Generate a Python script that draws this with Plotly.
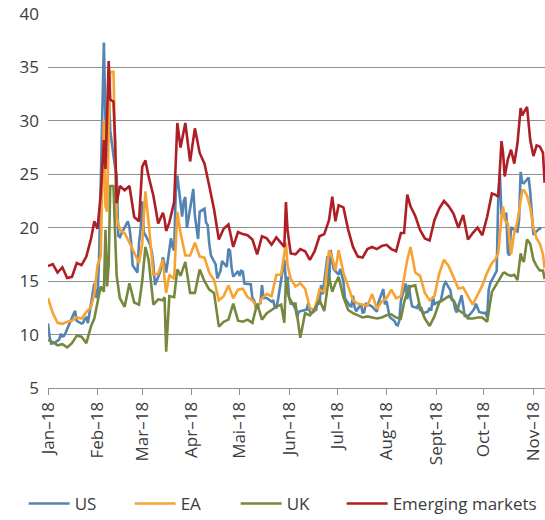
import plotly.graph_objects as go

# ---- US (daily) ----
us_dates = [
    "2018-01-01","2018-01-02","2018-01-03","2018-01-04","2018-01-05","2018-01-08","2018-01-09","2018-01-10","2018-01-11","2018-01-12",
    "2018-01-16","2018-01-17","2018-01-18","2018-01-19","2018-01-22","2018-01-23","2018-01-24","2018-01-25","2018-01-26","2018-01-29",
    "2018-01-30","2018-01-31",
    "2018-02-01","2018-02-02","2018-02-05","2018-02-06","2018-02-07","2018-02-08","2018-02-09","2018-02-12","2018-02-13","2018-02-14",
    "2018-02-15","2018-02-16","2018-02-20","2018-02-21","2018-02-22","2018-02-23","2018-02-26","2018-02-27","2018-02-28",
    "2018-03-01","2018-03-02","2018-03-05","2018-03-06","2018-03-07","2018-03-08","2018-03-09","2018-03-12","2018-03-13","2018-03-14",
    "2018-03-15","2018-03-16","2018-03-19","2018-03-20","2018-03-21","2018-03-22","2018-03-23","2018-03-26","2018-03-27","2018-03-28",
    "2018-03-29",
    "2018-04-02","2018-04-03","2018-04-04","2018-04-05","2018-04-06","2018-04-09","2018-04-10","2018-04-11","2018-04-12","2018-04-13",
    "2018-04-16","2018-04-17","2018-04-18","2018-04-19","2018-04-20","2018-04-23","2018-04-24","2018-04-25","2018-04-26","2018-04-27",
    "2018-04-30",
    "2018-05-01","2018-05-02","2018-05-03","2018-05-04","2018-05-07","2018-05-08","2018-05-09","2018-05-10","2018-05-11","2018-05-14",
    "2018-05-15","2018-05-16","2018-05-17","2018-05-18","2018-05-21","2018-05-22","2018-05-23","2018-05-24","2018-05-25","2018-05-29",
    "2018-05-30","2018-05-31",
    "2018-06-01","2018-06-04","2018-06-05","2018-06-06","2018-06-07","2018-06-08","2018-06-11","2018-06-12","2018-06-13","2018-06-14",
    "2018-06-15","2018-06-18","2018-06-19","2018-06-20","2018-06-21","2018-06-22","2018-06-25","2018-06-26","2018-06-27","2018-06-28",
    "2018-06-29",
    "2018-07-02","2018-07-03","2018-07-05","2018-07-06","2018-07-09","2018-07-10","2018-07-11","2018-07-12","2018-07-13","2018-07-16",
    "2018-07-17","2018-07-18","2018-07-19","2018-07-20","2018-07-23","2018-07-24","2018-07-25","2018-07-26","2018-07-27","2018-07-30",
    "2018-07-31",
    "2018-08-01","2018-08-02","2018-08-03","2018-08-06","2018-08-07","2018-08-08","2018-08-09","2018-08-10","2018-08-13","2018-08-14",
    "2018-08-15","2018-08-16","2018-08-17","2018-08-20","2018-08-21","2018-08-22","2018-08-23","2018-08-24","2018-08-27","2018-08-28",
    "2018-08-29","2018-08-30","2018-08-31",
    "2018-09-04","2018-09-05","2018-09-06","2018-09-07","2018-09-10","2018-09-11","2018-09-12","2018-09-13","2018-09-14","2018-09-17",
    "2018-09-18","2018-09-19","2018-09-20","2018-09-21","2018-09-24","2018-09-25","2018-09-26","2018-09-27","2018-09-28",
    "2018-10-01","2018-10-02","2018-10-03","2018-10-04","2018-10-05","2018-10-08","2018-10-09","2018-10-10","2018-10-11","2018-10-12",
    "2018-10-15","2018-10-16","2018-10-17","2018-10-18","2018-10-19","2018-10-22","2018-10-23","2018-10-24","2018-10-25","2018-10-26",
    "2018-10-29","2018-10-30","2018-10-31",
    "2018-11-01","2018-11-02","2018-11-05","2018-11-06",
]
us_vals = [
    11.04, 9.77, 9.15, 9.22, 9.22, 9.52, 10.08, 9.82, 9.88, 10.16,
    11.66, 11.91, 12.22, 11.27, 11.03, 11.10, 11.47, 11.58, 11.08, 13.84,
    14.79, 13.54,
    13.47, 17.31, 37.32, 29.98, 27.73, 33.46, 29.06, 25.61, 24.97, 19.26,
    19.13, 19.46, 20.60, 20.02, 18.72, 16.49, 15.80, 18.59, 19.85,
    22.47, 19.59, 18.73, 18.36, 17.76, 16.54, 14.64, 15.78, 16.35, 17.23,
    16.59, 15.80, 19.02, 18.20, 17.86, 23.34, 24.87, 21.03, 22.50, 22.87,
    19.97,
    23.62, 21.10, 20.06, 18.94, 21.49, 21.77, 20.47, 20.24, 18.49, 17.41,
    16.56, 15.25, 15.60, 15.96, 16.88, 16.34, 18.02, 17.84, 16.24, 15.41,
    15.93,
    15.49, 15.97, 15.90, 14.77, 14.75, 14.71, 13.42, 13.23, 12.65, 12.93,
    14.63, 13.42, 13.43, 13.42, 13.08, 13.22, 12.58, 12.53, 13.22, 17.02,
    14.94, 15.43,
    13.46, 12.74, 12.40, 11.64, 12.13, 12.18, 12.35, 12.34, 12.94, 12.12,
    11.98, 12.31, 13.35, 12.79, 14.64, 13.77, 17.33, 14.64, 17.91, 16.85,
    16.09,
    15.60, 16.14, 14.97, 13.37, 12.69, 12.64, 13.63, 12.58, 12.18, 12.83,
    12.06, 12.10, 12.87, 12.86, 12.62, 12.41, 12.29, 12.14, 13.03, 14.26,
    12.83,
    13.15, 12.19, 11.64, 11.27, 10.93, 10.85, 11.27, 13.16, 14.78, 13.31,
    14.64, 13.45, 12.64, 12.49, 12.86, 12.25, 12.41, 11.99, 12.16, 12.50,
    12.25, 13.53, 12.86,
    13.16, 13.91, 14.65, 14.88, 14.16, 13.22, 13.14, 12.37, 12.07, 13.68,
    12.79, 11.75, 11.80, 11.68, 12.20, 12.42, 12.89, 12.41, 12.12,
    12.00, 12.05, 11.61, 14.22, 14.82, 15.69, 15.95, 22.96, 24.98, 21.31,
    21.30, 17.62, 17.40, 20.06, 19.89, 19.64, 20.71, 25.23, 24.22, 24.16,
    24.70, 23.35, 21.23,
    19.34, 19.51, 19.96, 19.91,
]

# ---- EA, UK, Emerging markets (read every few days) ----
oth_dates = [
    "2018-01-01","2018-01-04","2018-01-07","2018-01-10","2018-01-13","2018-01-16","2018-01-19","2018-01-22","2018-01-25","2018-01-28","2018-01-30",
    "2018-02-01","2018-02-03","2018-02-05","2018-02-06","2018-02-07","2018-02-08","2018-02-09","2018-02-11","2018-02-12","2018-02-13","2018-02-15","2018-02-18","2018-02-21","2018-02-24","2018-02-27",
    "2018-03-01","2018-03-03","2018-03-05","2018-03-08","2018-03-11","2018-03-14","2018-03-15","2018-03-16","2018-03-18","2018-03-21","2018-03-23","2018-03-25","2018-03-28","2018-03-31",
    "2018-04-03","2018-04-06","2018-04-09","2018-04-12","2018-04-15","2018-04-18","2018-04-21","2018-04-24","2018-04-27","2018-04-30",
    "2018-05-03","2018-05-06","2018-05-09","2018-05-12","2018-05-15","2018-05-18","2018-05-21","2018-05-24","2018-05-27","2018-05-29","2018-05-30","2018-05-31",
    "2018-06-02","2018-06-05","2018-06-08","2018-06-11","2018-06-14","2018-06-17","2018-06-20","2018-06-23","2018-06-26","2018-06-28","2018-06-30",
    "2018-07-02","2018-07-05","2018-07-08","2018-07-11","2018-07-14","2018-07-17","2018-07-20","2018-07-23","2018-07-26","2018-07-29",
    "2018-08-01","2018-08-04","2018-08-07","2018-08-10","2018-08-12","2018-08-14","2018-08-16","2018-08-19","2018-08-22","2018-08-25","2018-08-28","2018-08-31",
    "2018-09-03","2018-09-06","2018-09-09","2018-09-12","2018-09-15","2018-09-18","2018-09-21","2018-09-24","2018-09-27","2018-09-30",
    "2018-10-03","2018-10-06","2018-10-08","2018-10-10","2018-10-12","2018-10-13","2018-10-14","2018-10-16","2018-10-18","2018-10-20","2018-10-22","2018-10-24","2018-10-25","2018-10-26","2018-10-28","2018-10-30",
    "2018-11-01","2018-11-03","2018-11-05","2018-11-07","2018-11-08",
]
ea_vals = [
    13.4, 12.0, 11.1, 11.0, 11.2, 11.3, 11.6, 11.5, 12.1, 12.6, 13.8,
    16.5, 17.3, 30.1, 22.0, 21.5, 29.0, 34.6, 34.6, 27.0, 21.0, 19.8, 19.5, 18.6, 17.6, 16.7,
    18.5, 23.4, 20.5, 15.6, 15.7, 17.0, 15.2, 13.9, 15.6, 15.2, 21.5, 19.5, 17.4, 17.4,
    18.6, 17.3, 17.2, 15.8, 15.1, 13.2, 13.6, 14.6, 13.4, 14.2,
    14.3, 13.5, 13.2, 12.5, 13.4, 13.8, 13.6, 15.6, 15.6, 17.5, 18.6, 16.5,
    15.2, 14.5, 14.8, 14.3, 12.5, 12.3, 14.2, 14.0, 17.9, 17.2, 16.0,
    17.9, 15.8, 14.5, 13.2, 12.9, 12.8, 12.7, 13.8, 12.4, 13.1,
    13.4, 14.2, 13.4, 13.6, 15.2, 17.0, 18.2, 15.8, 15.5, 13.9, 13.2, 13.6,
    15.7, 17.0, 16.4, 15.4, 14.3, 14.4, 13.6, 12.8, 13.7, 14.6,
    15.8, 16.7, 17.0, 17.6, 21.0, 22.0, 20.7, 20.4, 17.5, 19.5, 20.6, 22.5, 23.5, 23.5, 23.0, 21.9,
    20.0, 19.0, 18.5, 17.5, 16.2,
]
uk_vals = [
    9.5, 9.3, 9.0, 9.1, 8.8, 9.2, 9.9, 9.8, 9.2, 10.8, 11.5,
    13.0, 14.5, 14.0, 19.8, 14.5, 16.5, 23.9, 23.9, 19.5, 15.5, 13.4, 12.6, 14.8, 13.0, 12.8,
    15.0, 18.2, 17.0, 12.8, 13.3, 13.2, 13.5, 8.4, 13.6, 13.5, 16.1, 15.5, 16.8, 13.9,
    13.9, 16.1, 15.0, 14.2, 13.9, 10.75, 11.2, 11.4, 12.9, 11.3,
    11.2, 11.4, 11.1, 12.9, 11.4, 12.0, 12.3, 12.6, 12.8, 11.1, 15.1, 14.0,
    12.9, 12.9, 9.7, 12.0, 11.8, 12.4, 13.25, 12.2, 15.4, 14.0, 14.8,
    15.4, 13.5, 12.3, 12.0, 11.8, 11.6, 11.7, 11.6, 11.5, 11.6,
    11.8, 11.9, 11.6, 11.5, 13.0, 14.0, 14.5, 14.6, 12.6, 11.5, 10.8, 11.7,
    13.0, 13.3, 13.6, 13.2, 12.3, 12.0, 11.5, 11.5, 11.6, 11.6,
    11.2, 14.0, 14.5, 15.1, 15.5, 15.75, 15.8, 15.6, 15.5, 15.6, 15.1, 17.6, 17.0, 16.8, 18.9, 18.5,
    17.0, 16.4, 16.0, 16.0, 15.2,
]
em_vals = [
    16.4, 16.6, 15.8, 16.3, 15.3, 15.4, 16.7, 16.5, 17.3, 19.0, 20.6,
    19.9, 23.1, 28.2, 25.5, 29.8, 35.6, 32.0, 31.8, 28.2, 22.3, 23.9, 23.5, 23.9, 21.0, 20.6,
    25.7, 26.3, 24.8, 23.0, 20.4, 21.4, 20.8, 19.7, 20.5, 22.4, 29.8, 27.5, 29.8, 26.2,
    29.3, 27.0, 26.0, 23.9, 21.7, 18.9, 19.9, 20.3, 18.2, 19.6,
    19.4, 19.3, 18.9, 17.5, 19.2, 19.0, 18.4, 19.1, 18.6, 18.2, 22.4, 19.8,
    17.6, 17.5, 18.0, 17.8, 17.0, 17.8, 19.2, 19.4, 20.7, 22.9, 20.6,
    22.1, 21.9, 19.8, 18.2, 17.3, 17.2, 18.0, 18.2, 18.0, 18.3,
    18.4, 18.0, 17.8, 19.5, 19.5, 23.1, 22.0, 21.1, 19.8, 19.0, 18.8, 20.7,
    21.8, 22.5, 22.0, 21.3, 20.0, 21.2, 18.9, 19.5, 20.0, 19.3,
    21.0, 23.2, 23.1, 22.9, 28.1, 27.0, 24.8, 26.4, 27.3, 26.0, 27.9, 31.2, 30.5, 30.8, 31.3, 28.2,
    26.7, 27.7, 27.6, 27.0, 24.2,
]

assert len(us_dates) == len(us_vals), (len(us_dates), len(us_vals))
for s in (ea_vals, uk_vals, em_vals):
    assert len(s) == len(oth_dates), (len(s), len(oth_dates))

tick_vals = ["2018-01-01","2018-02-01","2018-03-01","2018-04-01","2018-05-01","2018-06-01",
             "2018-07-01","2018-08-01","2018-09-01","2018-10-01","2018-11-01"]
tick_text = ["Jan–18","Feb–18","Mar–18","Apr–18","Mai–18","Jun–18",
             "Jul–18","Aug–18","Sept–18","Oct–18","Nov–18"]

FONT = "Open Sans"
TXT = "#3c3c3c"
GRID = "#8e8e8e"

fig = go.Figure()
series = [
    ("US", us_dates, us_vals, "#5384b4", None),
    ("EA", oth_dates, ea_vals, "#f7a331", None),
    ("UK", oth_dates, uk_vals, "#76883e", None),
    ("Emerging markets", oth_dates, em_vals, "#ae1f25", 170),
]
for name, xs, ys, col, lw in series:
    tr = go.Scatter(x=xs, y=ys, mode="lines", name=name,
                    line=dict(color=col, width=2.6))
    if lw:
        tr.legendwidth = lw
    fig.add_trace(tr)

fig.update_layout(
    width=545, height=520,
    margin=dict(l=48, r=0, t=14, b=132, autoexpand=False),
    paper_bgcolor="white", plot_bgcolor="white",
    font=dict(family=FONT, size=16, color=TXT),
    showlegend=True,
    legend=dict(orientation="h", x=-0.049, xanchor="left", y=-0.31, yanchor="middle",
                font=dict(size=17, color=TXT), itemwidth=41,
                entrywidth=50, entrywidthmode="pixels",
                bgcolor="rgba(0,0,0,0)"),
    xaxis=dict(type="date", range=["2018-01-01", "2018-11-08 06:00"],
               tickmode="array", tickvals=tick_vals, ticktext=tick_text,
               tickangle=-90, ticks="outside", ticklen=6, tickwidth=1.2, tickcolor=GRID,
               showline=True, linecolor=GRID, linewidth=1.2, showgrid=False, zeroline=False,
               automargin=False, tickfont=dict(size=17, color=TXT)),
    yaxis=dict(range=[5, 40], tick0=5, dtick=5, showgrid=True, gridcolor=GRID, gridwidth=1.2,
               zeroline=False, showline=False, ticks="", ticklabelstandoff=8,
               automargin=False, tickfont=dict(size=17, color=TXT)),
)

fig.write_html(
    "out.html",
    config={"displayModeBar": False},
    post_script="document.body.style.margin='0';document.body.style.padding='0';"
                "document.body.style.overflow='hidden';",
)
